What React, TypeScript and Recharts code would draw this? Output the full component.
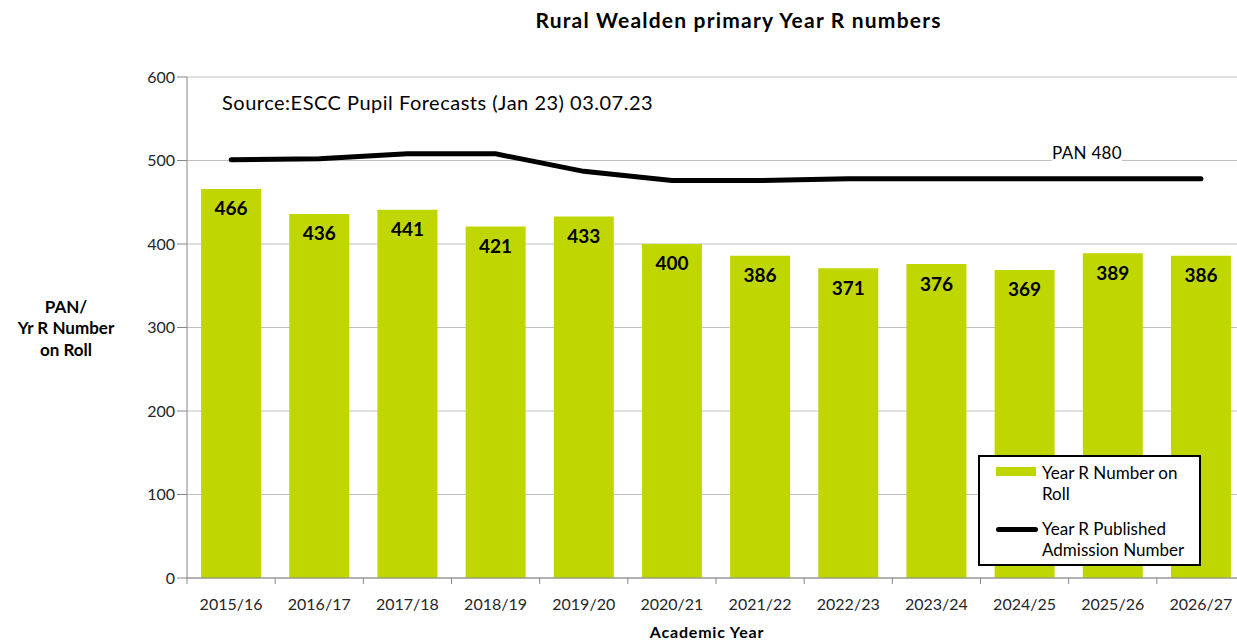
import React from 'react';
import { ComposedChart, Bar, Line, XAxis, YAxis, CartesianGrid, LabelList } from 'recharts';

const categories = ['2015/16', '2016/17', '2017/18', '2018/19', '2019/20', '2020/21', '2021/22', '2022/23', '2023/24', '2024/25', '2025/26', '2026/27'];
const rollNumbers = [466, 436, 441, 421, 433, 400, 386, 371, 376, 369, 389, 386];
const panNumbers = [501, 502, 508, 508, 487, 476, 476, 478, 478, 478, 478, 478];
const yTicks = [0, 100, 200, 300, 400, 500, 600];

const FONT = 'Lato, "Open Sans", sans-serif';
const GREEN = '#bfd600';

const CHART_W = 1260;
const LEFT = 187;
const RIGHT_MARGIN = 15;
const BAND = (CHART_W - LEFT - RIGHT_MARGIN) / categories.length;

const chartData = categories.map((year, i) => ({
  year,
  roll: rollNumbers[i],
  pan: panNumbers[i]
}));

const XTick = (props: any) => {
  const { x, y, payload } = props;
  return (
    <g>
      <line x1={x - BAND / 2} y1={y - 8} x2={x - BAND / 2} y2={y - 2} stroke="#868686" />
      <text x={x} y={y + 24} textAnchor="middle" fontSize={16} fill="#262626" fontFamily={FONT}>
        {payload.value}
      </text>
    </g>
  );
};

const YLabel = () => {
  return (
    <text x={66} y={0} textAnchor="middle" fontSize={17} fontWeight="bold" fill="#000" fontFamily={FONT}>
      <tspan x={66} y={313}>PAN/</tspan>
      <tspan x={66} y={334}>Yr R Number</tspan>
      <tspan x={66} y={356}>on Roll</tspan>
    </text>
  );
};

export default function App() {
  return (
    <div style={{ position: 'absolute', left: 0, top: 0, width: 1237, height: 640, overflow: 'hidden', background: '#fff', fontFamily: FONT }}>
      <div style={{ position: 'absolute', top: 7, width: 1477, textAlign: 'center', fontSize: 21, fontWeight: 'bold', color: '#000', letterSpacing: 1.2 }}>
        Rural Wealden primary Year R numbers
      </div>
      <ComposedChart
        width={CHART_W}
        height={640}
        data={chartData}
        margin={{ top: 77, right: RIGHT_MARGIN, left: 0, bottom: 0 }}
        barCategoryGap="16%"
      >
        <CartesianGrid vertical={false} stroke="#c0c0c0" />
        <XAxis
          dataKey="year"
          tickLine={false}
          axisLine={{ stroke: '#868686' }}
          tick={<XTick />}
          interval={0}
          height={62}
        />
        <YAxis
          domain={[0, 600]}
          ticks={yTicks}
          width={LEFT}
          axisLine={{ stroke: '#868686' }}
          tickLine={{ stroke: '#868686' }}
          tickSize={10}
          tick={{ fontSize: 16, fill: '#262626', fontFamily: FONT }}
          label={<YLabel />}
        />
        <Bar dataKey="roll" fill={GREEN} isAnimationActive={false}>
          <LabelList dataKey="roll" position="insideTop" offset={13} fill="#000" fontSize={19} fontWeight="bold" fontFamily={FONT} />
        </Bar>
        <Line
          dataKey="pan"
          type="linear"
          stroke="#000"
          strokeWidth={5}
          strokeLinecap="round"
          dot={false}
          activeDot={false}
          isAnimationActive={false}
        />
      </ComposedChart>
      <div style={{ position: 'absolute', left: 222, top: 90, fontSize: 20, color: '#000', whiteSpace: 'nowrap', letterSpacing: 0.5 }}>
        Source:ESCC Pupil Forecasts (Jan 23) 03.07.23
      </div>
      <div style={{ position: 'absolute', left: 1052, top: 144, fontSize: 17, color: '#000', whiteSpace: 'nowrap', background: '#fff', lineHeight: '18px', letterSpacing: 0.3 }}>
        PAN 480
      </div>
      <div style={{ position: 'absolute', left: 0, top: 622, width: 1414, textAlign: 'center', fontSize: 16, fontWeight: 'bold', color: '#000', letterSpacing: 0.8 }}>
        Academic Year
      </div>
      <div
        style={{
          position: 'absolute',
          left: 978,
          top: 455,
          width: 219,
          height: 107,
          border: '2px solid #000',
          background: '#fff',
          fontSize: 17,
          color: '#000',
          lineHeight: '21px',
          whiteSpace: 'nowrap'
        }}
      >
        <div style={{ position: 'absolute', left: 16, top: 10, width: 40, height: 9, background: GREEN }} />
        <div style={{ position: 'absolute', left: 62, top: 5 }}>
          Year R Number on
          <br />
          Roll
        </div>
        <div style={{ position: 'absolute', left: 16, top: 70, width: 42, height: 5, borderRadius: 3, background: '#000' }} />
        <div style={{ position: 'absolute', left: 62, top: 61 }}>
          Year R Published
          <br />
          Admission Number
        </div>
      </div>
    </div>
  );
}
